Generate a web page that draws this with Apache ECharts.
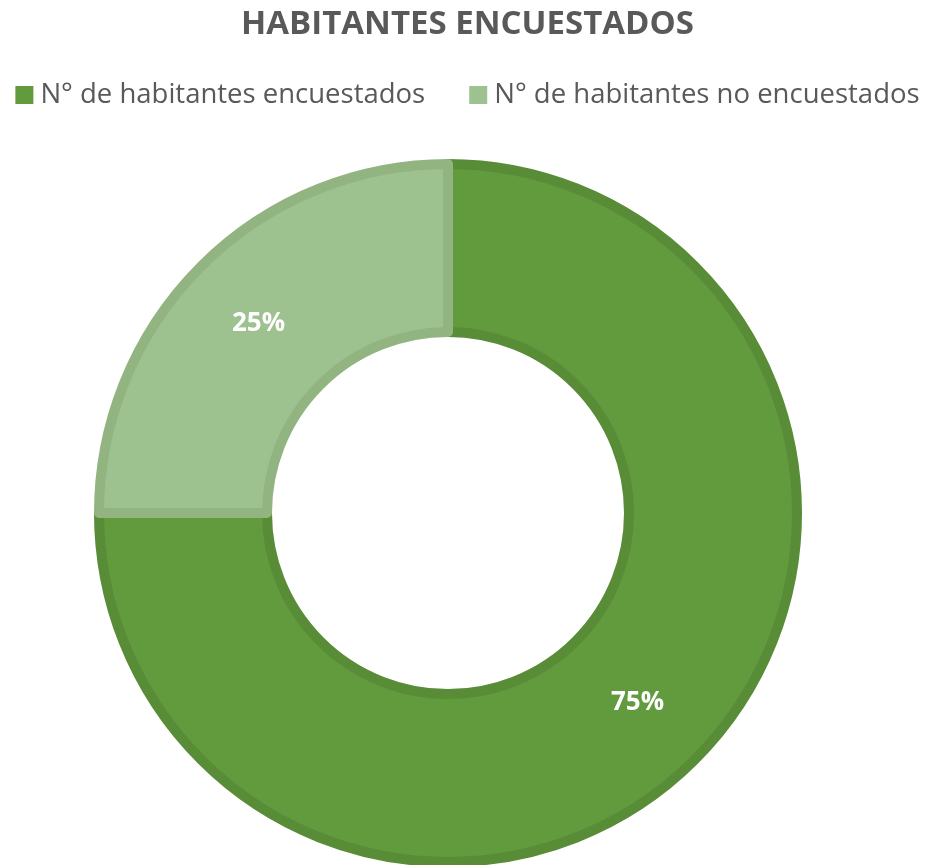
<!DOCTYPE html>
<html>
<head>
<meta charset="utf-8">
<script src="https://cdn.jsdelivr.net/npm/echarts@6/dist/echarts.min.js"></script>
<style>
  html, body { margin: 0; padding: 0; background: #fff; }
  #container { width: 935px; height: 865px; }
</style>
</head>
<body>
<div id="container"></div>
<script>
// datos
var categorias = ['N° de habitantes encuestados', 'N° de habitantes no encuestados'];
var valores = [75, 25];
var colores = ['#629A3E', '#9EC28F'];
var bordes = ['#588C37', '#92B481'];

var dom = document.getElementById("container");
var myChart = echarts.init(dom);

var datos = categorias.map(function(nombre, i){
    return {
        value: valores[i],
        name: nombre,
        itemStyle: { color: colores[i], borderColor: bordes[i] }
    };
});

myChart.setOption({
    animation: false,
    title: {
        text: 'HABITANTES ENCUESTADOS',
        left: 'center',
        top: 3,
        textStyle: {
            fontFamily: 'Open Sans',
            fontWeight: 'bold',
            fontSize: 33,
            color: '#595959'
        }
    },
    legend: {
        data: categorias,
        left: 'center',
        top: 76,
        icon: 'rect',
        itemWidth: 18,
        itemHeight: 18,
        itemGap: 44,
        itemStyle: { borderWidth: 0 },
        textStyle: {
            fontFamily: 'Open Sans',
            fontSize: 27.5,
            color: '#595959',
            padding: [0, 0, 0, 2]
        }
    },
    series: [{
        name: 'Habitantes',
        type: 'pie',
        center: [448, 513],
        radius: [181, 349],
        startAngle: 90,
        clockwise: true,
        avoidLabelOverlap: false,
        itemStyle: { borderWidth: 10 },
        label: {
            show: true,
            position: 'inside',
            formatter: '{d}%',
            fontFamily: 'Open Sans',
            fontWeight: 'bold',
            fontSize: 26,
            color: '#ffffff'
        },
        labelLine: { show: false },
        emphasis: { disabled: true },
        data: datos
    }]
});
</script>
</body>
</html>
